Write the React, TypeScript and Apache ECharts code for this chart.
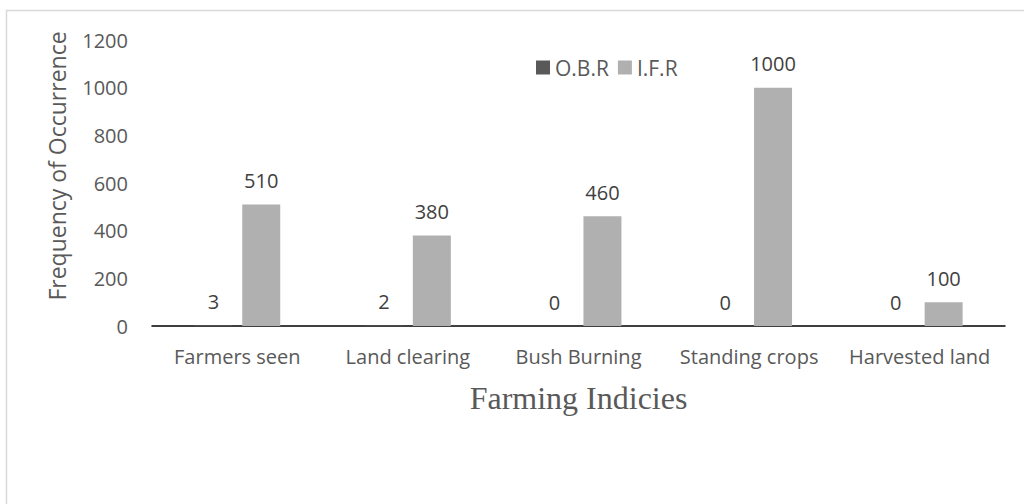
import React, { useEffect, useRef } from "react";
import * as echarts from "echarts";

const categories = ["Farmers seen", "Land clearing", "Bush Burning", "Standing crops", "Harvested land"];
const obrValues = [3, 2, 0, 0, 0];
const ifrValues = [510, 380, 460, 1000, 100];
const seriesNames = ["O.B.R", "I.F.R"];
const yTicks = { min: 0, max: 1200, interval: 200 };

const FONT = "Open Sans";

export default function App() {
  const ref = useRef<HTMLDivElement>(null);
  useEffect(() => {
    const chart = echarts.init(ref.current!, null, { renderer: "svg" });
    const labelStyle = {
      show: true,
      position: "top" as const,
      distance: 14,
      fontFamily: FONT,
      fontSize: 20,
      color: "#404040",
    };
    chart.setOption({
      animation: false,
      backgroundColor: "#ffffff",
      graphic: [
        { type: "line", shape: { x1: 6, y1: 10.5, x2: 1024, y2: 10.5 }, style: { stroke: "#d9d9d9", lineWidth: 1.5 } },
        { type: "line", shape: { x1: 6.5, y1: 10, x2: 6.5, y2: 504 }, style: { stroke: "#d9d9d9", lineWidth: 1.5 } },
      ],
      legend: {
        data: seriesNames,
        left: 531,
        top: 52,
        itemWidth: 14,
        itemHeight: 14,
        itemGap: 9,
        icon: "rect",
        textStyle: { fontFamily: FONT, fontSize: 21, color: "#595959" },
      },
      grid: { left: 152, right: 19, top: 40, bottom: 178, containLabel: false },
      xAxis: {
        type: "category",
        data: categories,
        axisLine: { lineStyle: { color: "#000000", width: 1.5 } },
        axisTick: { show: false },
        axisLabel: { fontFamily: FONT, fontSize: 20, color: "#595959", margin: 20, interval: 0 },
        name: "Farming Indicies",
        nameLocation: "middle",
        nameGap: 56,
        nameTextStyle: { fontFamily: "Liberation Serif", fontSize: 32, color: "#595959" },
      },
      yAxis: {
        type: "value",
        min: yTicks.min,
        max: yTicks.max,
        interval: yTicks.interval,
        splitLine: { show: false },
        axisLine: { show: false },
        axisTick: { show: false },
        axisLabel: { fontFamily: FONT, fontSize: 20, color: "#595959", margin: 24, formatter: (v: number) => String(v) },
        name: "Frequency of Occurrence",
        nameLocation: "middle",
        nameRotate: 90,
        nameGap: 84,
        nameTextStyle: { fontFamily: FONT, fontSize: 23, color: "#595959", padding: [0, 0, 0, 34] },
      },
      series: [
        {
          name: seriesNames[0],
          type: "bar",
          data: obrValues,
          itemStyle: { color: "#595959" },
          barWidth: 38,
          barGap: "26%",
          barCategoryGap: "50%",
          label: labelStyle,
        },
        {
          name: seriesNames[1],
          type: "bar",
          data: ifrValues,
          itemStyle: { color: "#b0b0b0" },
          barWidth: 38,
          barGap: "26%",
          label: labelStyle,
        },
      ],
    });
    return () => chart.dispose();
  }, []);
  return <div ref={ref} style={{ width: 1024, height: 504, position: "absolute", left: 0, top: 0 }} />;
}
